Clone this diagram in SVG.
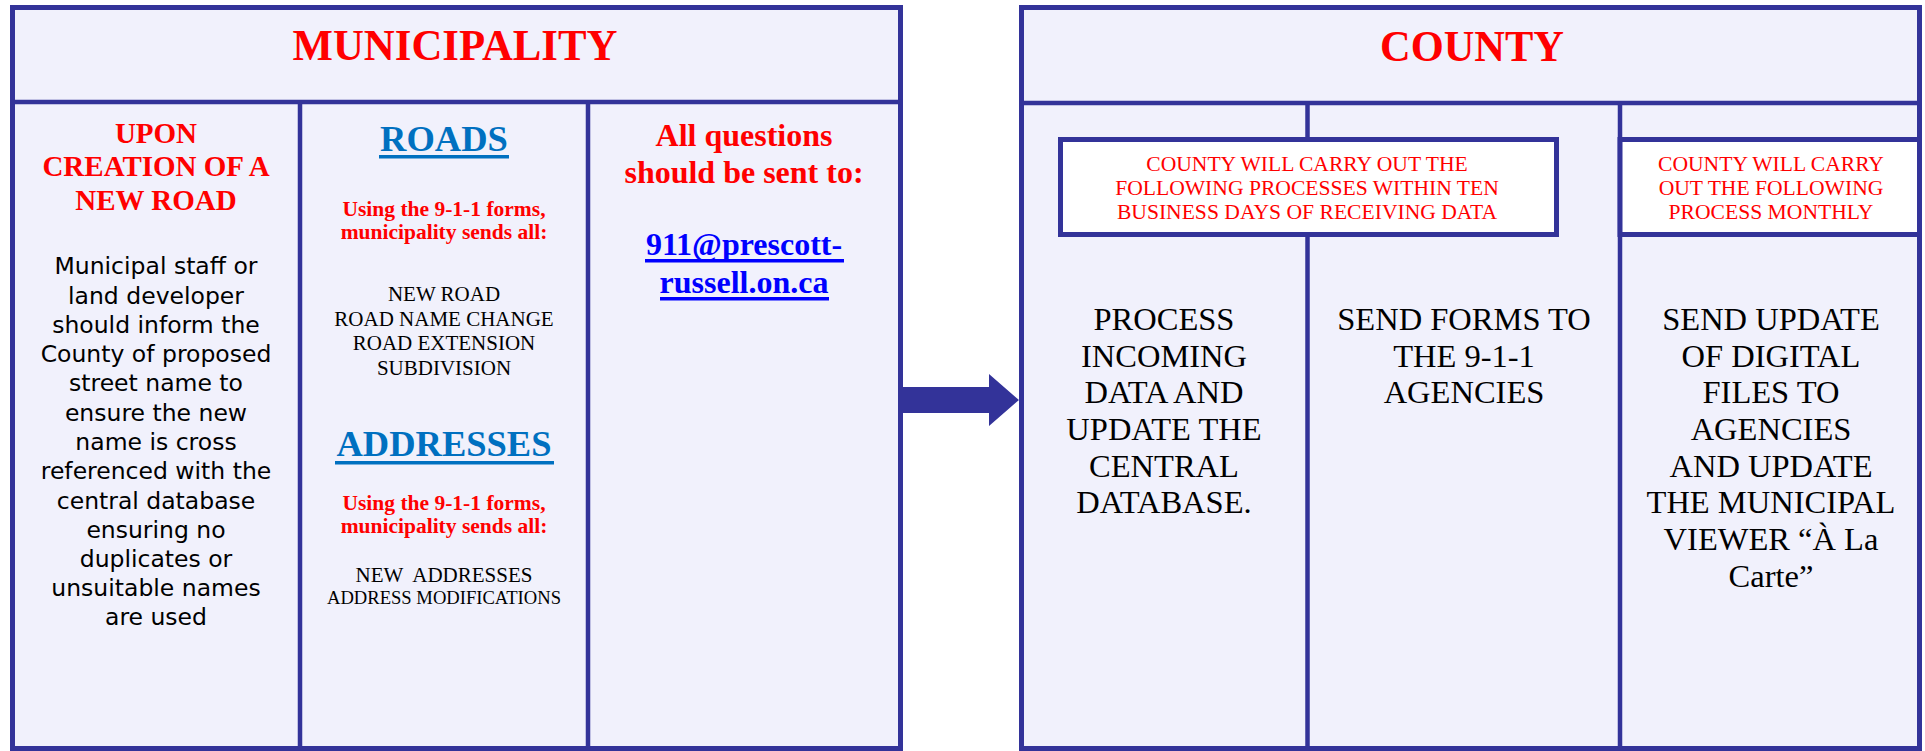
<svg xmlns="http://www.w3.org/2000/svg" width="1925" height="751" viewBox="0 0 1925 751">
<style>
.frame{fill:#F1F1FC;stroke:#333399;stroke-width:5}
.div{stroke:#333399;stroke-width:4.5;fill:none}
.inner{fill:#FFFFFF;stroke:#333399;stroke-width:5}
.title{font-family:"Liberation Serif",serif;font-weight:bold;font-size:44px;fill:#FF0000;text-anchor:middle}
.redhead{font-family:"Liberation Serif",serif;font-weight:bold;font-size:29px;fill:#FF0000;text-anchor:middle}
.body{font-family:"DejaVu Sans",sans-serif;font-size:23.5px;fill:#000000;text-anchor:middle}
.blueh{font-family:"Liberation Serif",serif;font-weight:bold;font-size:36.5px;fill:#0070C0;text-anchor:middle}
.redsub{font-family:"Liberation Serif",serif;font-weight:bold;font-size:21.5px;fill:#FF0000;text-anchor:middle}
.list{font-family:"Liberation Serif",serif;font-size:21px;fill:#000000;text-anchor:middle}
.q{font-family:"Liberation Serif",serif;font-weight:bold;font-size:32px;fill:#FF0000;text-anchor:middle}
.mail{font-family:"Liberation Serif",serif;font-weight:bold;font-size:32px;fill:#0000FF;text-anchor:middle}
.note{font-family:"Liberation Serif",serif;font-size:21.6px;fill:#FF0000;text-anchor:middle}
.big{font-family:"Liberation Serif",serif;font-size:32.5px;fill:#000000;text-anchor:middle}
</style>
<rect width="1925" height="751" fill="#FFFFFF"/>

<g id="municipality">
<rect class="frame" x="12.5" y="7.5" width="888" height="741"/>
<line class="div" x1="12" y1="102" x2="901" y2="102"/>
<line class="div" x1="300" y1="102" x2="300" y2="749"/>
<line class="div" x1="588" y1="102" x2="588" y2="749"/>
<text class="title" x="455" y="60" textLength="325" lengthAdjust="spacingAndGlyphs">MUNICIPALITY</text>
</g>

<g id="new-road">
<text class="redhead" x="156" y="143">UPON</text>
<text class="redhead" x="156" y="176">CREATION OF A</text>
<text class="redhead" x="156" y="210">NEW ROAD</text>
<text class="body" x="156" y="274">Municipal staff or</text>
<text class="body" x="156" y="303.5">land developer</text>
<text class="body" x="156" y="332.5">should inform the</text>
<text class="body" x="156" y="362">County of proposed</text>
<text class="body" x="156" y="391">street name to</text>
<text class="body" x="156" y="420.5">ensure the new</text>
<text class="body" x="156" y="450">name is cross</text>
<text class="body" x="156" y="479">referenced with the</text>
<text class="body" x="156" y="508.5">central database</text>
<text class="body" x="156" y="537.5">ensuring no</text>
<text class="body" x="156" y="567">duplicates or</text>
<text class="body" x="156" y="596">unsuitable names</text>
<text class="body" x="156" y="625">are used</text>
</g>

<g id="roads-addresses">
<text class="blueh" x="444" y="151">ROADS</text>
<rect x="379" y="155" width="130" height="3.5" fill="#0070C0"/>
<text class="redsub" x="444" y="216">Using the 9-1-1 forms,</text>
<text class="redsub" x="444" y="239">municipality sends all:</text>
<text class="list" x="444" y="301">NEW ROAD</text>
<text class="list" x="444" y="326">ROAD NAME CHANGE</text>
<text class="list" x="444" y="350">ROAD EXTENSION</text>
<text class="list" x="444" y="375">SUBDIVISION</text>
<text class="blueh" x="444" y="456">ADDRESSES</text>
<rect x="335" y="461" width="219" height="3.5" fill="#0070C0"/>
<text class="redsub" x="444" y="510">Using the 9-1-1 forms,</text>
<text class="redsub" x="444" y="533">municipality sends all:</text>
<text class="list" x="444" y="582" xml:space="preserve">NEW  ADDRESSES</text>
<text class="list" x="444" y="604" style="font-size:18.6px">ADDRESS MODIFICATIONS</text>
</g>

<g id="questions">
<text class="q" x="744" y="146">All questions</text>
<text class="q" x="744" y="183">should be sent to:</text>
<text class="mail" x="744" y="255">911@prescott-</text>
<rect x="645" y="259" width="199" height="3.5" fill="#0000FF"/>
<text class="mail" x="744" y="293">russell.on.ca</text>
<rect x="660" y="297" width="169" height="3.5" fill="#0000FF"/>
</g>

<g id="county">
<rect class="frame" x="1021.5" y="7.5" width="898" height="741"/>
<line class="div" x1="1021" y1="103" x2="1920" y2="103"/>
<line class="div" x1="1307.5" y1="103" x2="1307.5" y2="749"/>
<line class="div" x1="1620" y1="103" x2="1620" y2="749"/>
<text class="title" x="1472" y="61" textLength="184" lengthAdjust="spacingAndGlyphs">COUNTY</text>
</g>

<g id="ten-days-box">
<rect class="inner" x="1060.5" y="139.5" width="496" height="95"/>
<text class="note" x="1307" y="171">COUNTY WILL CARRY OUT THE</text>
<text class="note" x="1307" y="195">FOLLOWING PROCESSES WITHIN TEN</text>
<text class="note" x="1307" y="219">BUSINESS DAYS OF RECEIVING DATA</text>
</g>

<g id="monthly-box">
<rect class="inner" x="1620" y="139.5" width="299.5" height="95"/>
<text class="note" x="1771" y="171">COUNTY WILL CARRY</text>
<text class="note" x="1771" y="195">OUT THE FOLLOWING</text>
<text class="note" x="1771" y="219">PROCESS MONTHLY</text>
</g>

<g id="process-data">
<text class="big" x="1164" y="330">PROCESS</text>
<text class="big" x="1164" y="366.7">INCOMING</text>
<text class="big" x="1164" y="403.3">DATA AND</text>
<text class="big" x="1164" y="440">UPDATE THE</text>
<text class="big" x="1164" y="476.7">CENTRAL</text>
<text class="big" x="1164" y="513.3">DATABASE.</text>
</g>

<g id="send-forms">
<text class="big" x="1464" y="330">SEND FORMS TO</text>
<text class="big" x="1464" y="366.7">THE 9-1-1</text>
<text class="big" x="1464" y="403.3">AGENCIES</text>
</g>

<g id="send-update">
<text class="big" x="1771" y="330">SEND UPDATE</text>
<text class="big" x="1771" y="366.7">OF DIGITAL</text>
<text class="big" x="1771" y="403.3">FILES TO</text>
<text class="big" x="1771" y="440">AGENCIES</text>
<text class="big" x="1771" y="476.7">AND UPDATE</text>
<text class="big" x="1771" y="513.3">THE MUNICIPAL</text>
<text class="big" x="1771" y="550">VIEWER “À La</text>
<text class="big" x="1771" y="586.7">Carte”</text>
</g>

<g id="connectors">
<polygon points="901,387 989,387 989,374 1019,400 989,426 989,413 901,413" fill="#333399"/>
</g>
</svg>
